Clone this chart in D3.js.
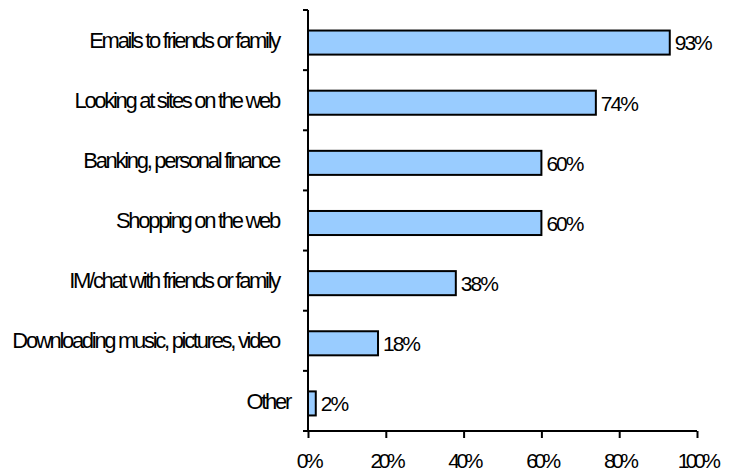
<!DOCTYPE html>
<meta charset="utf-8">
<html lang="en">
<style>
body { margin: 0; background: #fff; }
text { font-family: "Liberation Sans", Arial, sans-serif; font-size: 22px; letter-spacing: -2.3px; fill: #000; }
.val { font-size: 21px; letter-spacing: -2px; }
.axis text { font-size: 21px; letter-spacing: -3.5px; }
.bar { fill: #99ccff; stroke: #000; stroke-width: 2px; }
.axis path, .axis line { stroke: #000; stroke-width: 2px; }
</style>
<body>
<div id="chart"></div>
<script src="https://cdn.jsdelivr.net/npm/d3@7"></script>
<script>
// categories and values, top to bottom
var categories = ["Emails to friends or family", "Looking at sites on the web", "Banking, personal finance",
                  "Shopping on the web", "IM/chat with friends or family", "Downloading music, pictures, video", "Other"];
var values = [93, 74, 60, 60, 38, 18, 2];
var xTicks = [0, 20, 40, 60, 80, 100];

var width = 729, height = 472,
    margin = {top: 10, right: 32, bottom: 41, left: 308};

var svg = d3.select("#chart").append("svg")
    .attr("width", width)
    .attr("height", height);

var x = d3.scaleLinear()
    .domain([0, 100])
    .range([margin.left, width - margin.right]);

var y = d3.scaleBand()
    .domain(categories)
    .range([margin.top, height - margin.bottom])
    .paddingInner(0.6)
    .paddingOuter(0.3);

// band edges for the y-axis ticks
var band = d3.scaleBand().domain(categories).range([margin.top, height - margin.bottom]);
var edges = categories.map(function(d) { return band(d); }).concat([height - margin.bottom]);

// bars
svg.selectAll(".bar")
  .data(values)
  .enter().append("rect")
    .attr("class", "bar")
    .attr("x", x(0))
    .attr("y", function(d, i) { return y(categories[i]) + 2.5; })
    .attr("width", function(d) { return x(d) - x(0); })
    .attr("height", y.bandwidth());

// value labels
svg.selectAll(".val")
  .data(values)
  .enter().append("text")
    .attr("class", "val")
    .attr("x", function(d) { return x(d) + 5; })
    .attr("y", function(d, i) { return band(categories[i]) + band.bandwidth() / 2 + 3; })
    .attr("dy", "0.35em")
    .text(function(d) { return d + "%"; });

// category labels
svg.selectAll(".cat")
  .data(categories)
  .enter().append("text")
    .attr("class", "cat")
    .attr("text-anchor", "end")
    .attr("x", function(d, i) { return i === categories.length - 1 ? 290 : 279; })
    .attr("y", function(d) { return band(d) + band.bandwidth() / 2; })
    .attr("dy", "0.35em")
    .text(function(d) { return d; });

// y axis: line plus ticks at band edges
svg.append("line")
    .attr("class", "yline")
    .attr("x1", x(0)).attr("x2", x(0))
    .attr("y1", margin.top).attr("y2", height - margin.bottom)
    .style("stroke", "#000").style("stroke-width", 2);
svg.selectAll(".ytick")
  .data(edges)
  .enter().append("line")
    .attr("x1", x(0) - 5).attr("x2", x(0))
    .attr("y1", function(d) { return d; }).attr("y2", function(d) { return d; })
    .style("stroke", "#000").style("stroke-width", 2);

// x axis
var xAxis = svg.append("g")
    .attr("class", "axis")
    .attr("transform", "translate(0," + (height - margin.bottom) + ")")
    .call(d3.axisBottom(x).tickValues(xTicks).tickSize(7).tickSizeOuter(0)
      .tickFormat(function(d) { return d + "%"; }));
xAxis.select(".domain").attr("d", "M" + (x(0) - 5) + ",0H" + x(100));
xAxis.selectAll("text")
    .attr("y", 22)
    .attr("dy", "0.71em")
    .attr("dx", 0);
xAxis.attr("font-family", null).attr("font-size", null);
</script>
</body>
</html>
